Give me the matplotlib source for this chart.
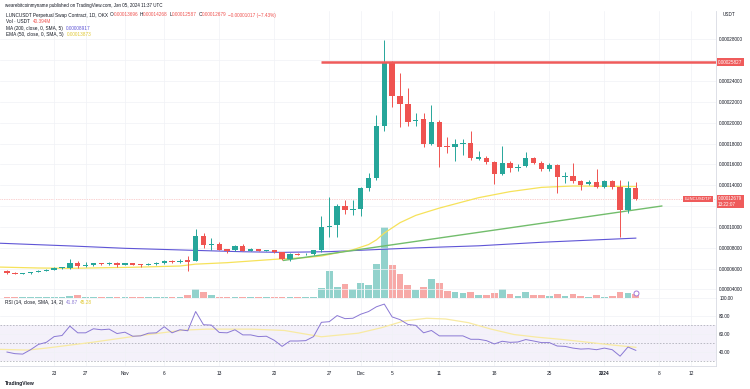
import pandas as pd
import matplotlib
matplotlib.use('Agg')
import matplotlib.pyplot as plt

plt.rcParams['font.family'] = ['Liberation Sans', 'DejaVu Sans']

# LUNCUSDT.P daily candles, 2023-10-17 .. 2024-01-05, prices in 1e-5 USDT
start = pd.Timestamp('2023-10-17')
opens = [5.76, 5.57, 5.52, 5.54, 5.66, 5.79, 5.86, 6.07, 6.05, 6.53,
         6.27, 6.30, 6.50, 6.40, 6.56, 6.37, 6.50, 6.37, 6.34, 6.46,
         6.50, 6.75, 6.59, 6.82, 6.75, 9.12, 8.29, 8.35, 7.84, 7.78,
         8.16, 7.72, 7.84, 7.71, 7.74, 7.55, 6.88, 7.42, 7.35, 7.36,
         7.74, 9.95, 10.14, 11.97, 11.58, 11.74, 13.72, 14.68, 19.71, 25.85,
         22.52, 21.76, 20.13, 20.32, 17.92, 20.10, 17.70, 17.66, 17.95, 18.05,
         16.55, 16.60, 16.20, 15.10, 16.10, 15.62, 15.84, 16.64, 16.16, 15.58,
         15.90, 14.82, 14.88, 14.43, 14.11, 14.33, 13.86, 14.43, 13.80, 11.62,
         13.696]
highs = [5.85, 5.62, 5.58, 5.70, 5.82, 5.93, 6.18, 6.18, 6.91, 6.72,
         6.60, 6.55, 6.56, 6.62, 6.62, 6.55, 6.56, 6.42, 6.50, 6.60,
         6.80, 6.80, 6.88, 7.24, 9.76, 9.44, 8.90, 8.58, 7.88, 8.29,
         8.35, 7.95, 7.90, 7.80, 7.80, 7.60, 7.45, 7.50, 7.48, 7.80,
         11.0, 12.9, 12.2, 12.6, 12.6, 13.8, 15.2, 20.7, 27.96, 25.9,
         24.76, 23.3, 20.96, 20.96, 21.7, 20.3, 18.66, 18.4, 18.4, 19.23,
         17.3, 16.8, 16.3, 17.76, 16.3, 16.0, 17.15, 16.75, 16.3, 16.1,
         16.0, 15.3, 16.1, 14.5, 14.5, 15.52, 14.5, 14.5, 14.5, 14.43,
         14.268]
lows = [5.50, 5.48, 5.43, 5.50, 5.62, 5.75, 5.84, 6.00, 6.00, 6.02,
        6.12, 6.25, 6.35, 6.35, 6.18, 6.30, 6.30, 6.18, 6.30, 6.37,
        6.45, 6.50, 6.55, 5.76, 6.70, 7.94, 7.78, 7.75, 7.52, 7.70,
        7.65, 7.65, 7.65, 7.65, 7.45, 6.80, 6.75, 7.25, 7.28, 7.30,
        7.60, 9.02, 9.00, 11.2, 11.1, 11.0, 13.4, 14.5, 19.2, 21.5,
        19.6, 19.7, 19.7, 17.7, 17.85, 15.78, 17.06, 16.3, 16.9, 16.4,
        16.4, 16.0, 14.1, 15.0, 15.3, 15.4, 15.7, 16.0, 15.4, 15.4,
        13.22, 14.24, 14.2, 13.5, 14.0, 13.7, 13.7, 13.6, 9.06, 11.3,
        12.587]
closes = [5.57, 5.52, 5.54, 5.66, 5.79, 5.89, 6.07, 6.11, 6.50, 6.27,
          6.34, 6.50, 6.40, 6.56, 6.37, 6.50, 6.37, 6.34, 6.46, 6.50,
          6.75, 6.59, 6.75, 6.66, 9.12, 8.29, 8.32, 7.81, 7.68, 8.16,
          7.71, 7.85, 7.71, 7.74, 7.55, 6.91, 7.39, 7.30, 7.40, 7.74,
          9.95, 10.05, 11.97, 11.58, 11.71, 13.72, 14.68, 19.71, 25.85, 22.52,
          21.76, 20.03, 20.30, 17.92, 20.10, 17.70, 17.68, 17.95, 18.05, 16.58,
          16.67, 16.20, 15.10, 16.10, 15.62, 15.74, 16.64, 16.16, 15.58, 15.90,
          14.82, 14.88, 14.43, 14.05, 14.33, 13.86, 14.43, 13.82, 11.62, 13.70,
          12.679]
# volume, M USDT
volumes = [8, 6, 5, 6, 7, 8, 10, 9, 23, 33,
           12, 10, 8, 9, 10, 8, 8, 7, 6, 6,
           10, 9, 10, 33, 93, 57, 30, 13, 9, 10,
           10, 8, 8, 6, 7, 13, 10, 6, 5, 8,
           103, 267, 110, 143, 87, 150, 133, 337, 713, 327,
           243, 133, 80, 107, 190, 147, 73, 60, 47, 60,
           27, 27, 47, 90, 40, 20, 63, 33, 30, 17,
           40, 23, 37, 23, 13, 33, 13, 17, 57, 47,
           40]
rsi = [40.0, 38.2, 37.7, 42.6, 48.5, 50.8, 57.2, 58.4, 68.9, 61.4,
       61.4, 65.9, 64.8, 65.5, 60.6, 62.1, 57.6, 58.0, 61.0, 61.4,
       68.2, 61.4, 64.8, 63.7, 85.1, 70.4, 70.0, 61.8, 61.4, 64.8,
       59.1, 59.1, 57.2, 57.6, 53.1, 46.3, 52.3, 52.3, 52.7, 57.2,
       73.1, 73.8, 80.6, 77.2, 77.6, 82.1, 85.1, 90.4, 93.4, 79.1,
       76.1, 70.8, 69.7, 61.4, 64.0, 58.0, 58.0, 58.0, 58.0, 54.2,
       54.2, 52.7, 49.0, 52.0, 50.8, 51.2, 53.9, 52.3, 50.5, 50.5,
       46.7, 46.3, 44.4, 43.3, 43.7, 42.6, 44.4, 42.6, 35.4, 45.6,
       41.87]

# indicator lines (day index from start, value)
ma200_days = [-1, 8, 15, 24, 30, 35, 41, 47, 52, 60, 68, 80]
ma200_vals = [8.43, 8.17, 7.94, 7.74, 7.61, 7.55, 7.62, 7.82, 7.98, 8.18, 8.52, 8.917]
ema50_days = [-1, 4, 8, 16, 22, 24, 28, 31, 34, 38, 40, 42, 44, 46, 47, 48,
              50, 52, 55, 60, 64, 68, 72, 76, 80]
ema50_vals = [6.14, 6.05, 6.02, 6.12, 6.24, 6.42, 6.56, 6.72, 6.88, 7.05, 7.2, 7.5,
              7.8, 8.3, 8.75, 9.4, 10.4, 11.1, 11.8, 12.8, 13.38, 13.79, 13.92, 13.9, 13.873]
rsi_ma_days = [-1, 2.6, 5, 10.8, 16.6, 22.5, 25.4, 31.2, 35.3, 40, 44.7, 47.6,
               50.5, 53.4, 55.8, 58.7, 61.6, 64.5, 67.5, 70.4, 73.3, 76.8, 80]
rsi_ma_vals = [43.0, 42.2, 44.4, 50.8, 58.0, 64.4, 65.5, 65.5, 64.0, 57.0, 61.0, 67.0,
               74.6, 77.6, 76.8, 72.7, 65.5, 59.5, 56.5, 54.2, 51.5, 48.0, 45.28]
trend_days = [35.2, 83.3]
trend_vals = [6.78, 12.0]
resist_start = 40
resist_level = 25.827
last_price = 12.679

price_ticks = [4, 6, 8, 10, 12, 14, 16, 18, 20, 22, 24, 26, 28]
hidden_ticks = [12, 26]   # covered by the price tags
rsi_ticks = [40, 60, 80, 100]
tick_dates = ['2023-10-23', '2023-10-27', '2023-11-01', '2023-11-06', '2023-11-13',
              '2023-11-20', '2023-11-27', '2023-12-01', '2023-12-05', '2023-12-11',
              '2023-12-18', '2023-12-25', '2024-01-01', '2024-01-08', '2024-01-12']
tick_labels = ['23', '27', 'Nov', '6', '13', '20', '27', 'Dec', '5', '11', '18', '25',
               '2024', '8', '12']

n = len(closes)
days = list(range(n))
tick_pos = [(pd.Timestamp(d) - start).days for d in tick_dates]

W, H = 750, 389
fig = plt.figure(figsize=(7.5, 3.89), dpi=100)
renderer = fig.canvas.get_renderer()


def px_rect(x0, y0, x1, y1):
    return [x0 / W, 1 - y1 / H, (x1 - x0) / W, (y1 - y0) / H]


def ftxt(x, y, s, **kw):
    kw.setdefault('fontsize', 3.43)
    kw.setdefault('color', '#131722')
    kw.setdefault('va', 'center')
    return fig.text(x / W, 1 - y / H, s, **kw)


def chain(x, y, parts):
    # place coloured pieces of one legend line one after another
    for s, col, gap in parts:
        t = ftxt(x + gap, y, s, color=col)
        x = t.get_window_extent(renderer).x1
    return x


xmin, xmax = -0.89, 90.15
up_col, dn_col = '#26a69a', '#ef5350'
grid_col = '#f0f2f6'
sep_col = '#d8dbe3'
dark = '#131722'

main_rect = px_rect(0, 11, 715.6, 298)
axv = fig.add_axes(main_rect)
ax = fig.add_axes(main_rect)
ax.patch.set_visible(False)
rsi_ax = fig.add_axes(px_rect(0, 298, 715.6, 366))

# volume (behind price)
vol_cols = ['#92d2cc' if closes[i] >= opens[i] else '#f7a9a7' for i in days]
axv.bar(days, volumes, width=0.86, color=vol_cols, linewidth=0)
axv.set_xlim(xmin, xmax)
axv.set_ylim(0, max(volumes) * 4.02)
axv.axis('off')
axv.plot(days[-1], 0.018, marker='o', ms=3.6, mfc='white', mec='#a47ad8', mew=0.7,
         transform=axv.get_xaxis_transform(), zorder=5)

# price pane
for i in days:
    o, h, l, c = opens[i], highs[i], lows[i], closes[i]
    col = up_col if c >= o else dn_col
    ax.vlines(i, l, h, color=col, lw=0.7, zorder=3)
    ax.bar(i, max(abs(c - o), 0.08), bottom=min(o, c), width=0.68, color=col,
           linewidth=0, zorder=4)

ax.plot(ma200_days, ma200_vals, color='#5f55d6', lw=0.8, zorder=2)
ax.plot(ema50_days, ema50_vals, color='#f6e25a', lw=0.9, zorder=2)
ax.plot(trend_days, trend_vals, color='#72bd6c', lw=1.0, zorder=2)
ax.plot([resist_start, xmax], [resist_level, resist_level], color='#ef5b5b', lw=1.8,
        zorder=5, solid_capstyle='butt')
ax.axhline(last_price, color='#f5a3a3', lw=0.5, ls=(0, (1, 1.5)), zorder=1)

ax.set_xlim(xmin, xmax)
ax.set_ylim(3.17, 30.72)
ax.set_yticks(price_ticks)
ax.set_yticklabels(['' if v in hidden_ticks else f'{v * 1e-5:.8f}' for v in price_ticks])
ax.yaxis.tick_right()
ax.tick_params(axis='y', length=0, pad=2.6, labelsize=3.3, colors=dark)
ax.set_xticks(tick_pos)
ax.tick_params(axis='x', length=0, labelbottom=False)
ax.grid(True, color=grid_col, lw=0.5)
for s in ['top', 'left']:
    ax.spines[s].set_visible(False)
for s in ['right', 'bottom']:
    ax.spines[s].set_color(sep_col)
    ax.spines[s].set_linewidth(0.6)

# RSI pane
rsi_ax.fill_between([xmin, xmax], 30, 70, color='#7e57c2', alpha=0.08, linewidth=0)
for lvl in [70, 50, 30]:
    rsi_ax.axhline(lvl, color='#9a9ca6', lw=0.45, ls=(0, (2.5, 2.5)))
rsi_ax.plot(rsi_ma_days, rsi_ma_vals, color='#f8eaa2', lw=0.9)
rsi_ax.plot(days, rsi, color='#8a78d4', lw=0.7)
rsi_ax.set_xlim(xmin, xmax)
rsi_ax.set_ylim(24.46, 100.17)
rsi_ax.set_yticks(rsi_ticks)
rsi_ax.set_yticklabels([f'{v:.2f}' for v in rsi_ticks])
rsi_ax.yaxis.tick_right()
rsi_ax.tick_params(axis='y', length=0, pad=2.6, labelsize=3.3, colors=dark)
rsi_ax.set_xticks(tick_pos)
rsi_ax.set_xticklabels(tick_labels)
rsi_ax.tick_params(axis='x', length=0, pad=3.4, labelsize=3.4, colors=dark)
for lbl in rsi_ax.get_xticklabels():
    if lbl.get_text() == '2024':
        lbl.set_fontweight('bold')
rsi_ax.grid(True, color=grid_col, lw=0.5)
for s in ['top', 'left']:
    rsi_ax.spines[s].set_visible(False)
for s in ['right', 'bottom']:
    rsi_ax.spines[s].set_color(sep_col)
    rsi_ax.spines[s].set_linewidth(0.6)

# header / legend
red = '#ef5350'
ftxt(5, 5.8, 'wearebitcoinmyname published on TradingView.com, Jan 05, 2024 11:37 UTC',
     fontsize=3.25)
chain(6.5, 15, [('LUNCUSDT Perpetual Swap Contract, 1D, OKX', dark, 0),
                ('O', dark, 1.5), ('0.00013696', red, 0),
                ('H', dark, 1.5), ('0.00014268', red, 0),
                ('L', dark, 1.5), ('0.00012587', red, 0),
                ('C', dark, 1.5), ('0.00012679', red, 0),
                ('\u22120.00001017 (\u22127.43%)', red, 1.5)])
chain(6.5, 21.7, [('Vol \u00b7 USDT', dark, 0), ('40.394M', red, 2.5)])
chain(6.5, 28.3, [('MA (200, close, 0, SMA, 5)', dark, 0), ('0.00008917', '#5f55d6', 2.5)])
chain(6.5, 34.6, [('EMA (50, close, 0, SMA, 5)', dark, 0), ('0.00013873', '#e0c832', 2.5)])
chain(5, 302.6, [('RSI (14, close, SMA, 14, 2)', dark, 0), ('41.87', '#8a78d4', 2.5),
                 ('45.28', '#e0c832', 2.5)])
ftxt(723, 14, 'USDT', fontsize=3.3)

# price tags on the right scale
tag = dict(boxstyle='square,pad=0.3', fc='#ef5b5b', ec='none')
ftxt(718, 62, '0.00025827', color='white', bbox=tag, fontsize=3.3)
ftxt(718, 201.5, '0.00012679\n13:22:07', color='white', bbox=tag, fontsize=3.3,
     linespacing=1.05)
ftxt(684.5, 199, 'LUNCUSDT.P', color='white', bbox=tag, fontsize=3.1)

ftxt(5, 383, 'TradingView', fontsize=3.6, fontweight='bold')

fig.savefig('out.png', dpi=100)
